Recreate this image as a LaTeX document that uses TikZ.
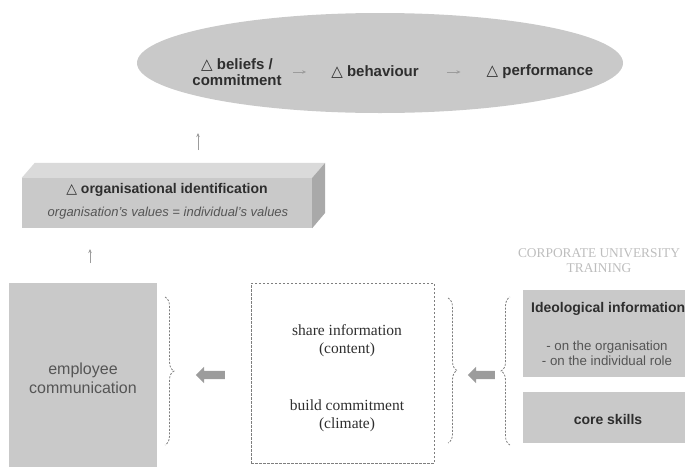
\documentclass[tikz,border=0pt]{standalone}
\usepackage{fontspec}
\setmainfont{Liberation Sans}
\newfontfamily\serifface{Liberation Serif}
\newfontfamily\symface{DejaVu Sans}
\usetikzlibrary{arrows.meta,shapes.geometric,shapes.arrows,decorations.pathreplacing}
\definecolor{txt}{HTML}{2E2E2E}
\definecolor{softtxt}{HTML}{555555}
\definecolor{panel}{HTML}{C9C9C9}
\definecolor{topface}{HTML}{DADADA}
\definecolor{sideface}{HTML}{A9A9A9}
\definecolor{linegrey}{HTML}{7E7E7E}
\definecolor{arrowgrey}{HTML}{9C9C9C}
\definecolor{faint}{HTML}{BDBDBD}
\newcommand{\delt}{{\symface\char"25B3}}
\begin{document}
\begin{tikzpicture}[x=1pt,y=-1pt,
  lbl/.style={font=\fontsize{15}{16}\selectfont\bfseries, text=txt, align=center, inner sep=1pt},
  headlbl/.style={font=\fontsize{14}{16}\selectfont\bfseries, text=txt, inner sep=1pt},
  sublbl/.style={font=\fontsize{13}{14}\selectfont\itshape, text=softtxt, inner sep=1pt},
  plainlbl/.style={font=\fontsize{16}{19}\selectfont, text=softtxt, align=center, inner sep=1pt},
  bulletlbl/.style={font=\fontsize{13.3}{14.5}\selectfont, text=softtxt, align=center, inner sep=1pt},
  seriflbl/.style={font=\serifface\fontsize{15.5}{18}\selectfont, text=txt, align=center, inner sep=1pt},
  greybox/.style={fill=panel, draw=none, inner sep=0pt},
  dashedbox/.style={draw=linegrey, line width=0.8pt, dash pattern=on 2.5pt off 1.5pt, inner sep=0pt},
  thinarrow/.style={draw=arrowgrey, line width=0.7pt, -{Stealth[length=4pt,width=3.5pt]}},
  dashedbrace/.style={draw=linegrey, line width=0.8pt, dash pattern=on 2pt off 1.5pt,
    decorate, decoration={brace, amplitude=9pt}},
  blockarrow/.style={single arrow, fill=arrowgrey, draw=none, inner xsep=0pt, inner ysep=4pt,
    minimum width=16pt, single arrow head extend=4pt, single arrow head indent=0pt,
    shape border rotate=180}
]
\useasboundingbox (0,0) rectangle (685,466);
\clip (0,0) rectangle (685,466);

% outcome chain in the ellipse
\node[ellipse, fill=panel, inner sep=0pt, minimum width=486pt, minimum height=100pt] (goals) at (380,63) {};
\node[lbl] (beliefs) at (237,72.5) {\delt\ beliefs /\\commitment};
\node[lbl] (behaviour) at (375,72) {\delt\ behaviour};
\node[lbl] (perf) at (540,72) {\delt\ performance};
\draw[thinarrow, shorten <=10pt, shorten >=24pt] (beliefs.east |- behaviour) -- (behaviour.west);
\draw[thinarrow, shorten <=27pt, shorten >=25pt] (behaviour.east) -- (perf.west);

% organisational identification block
\node[fill=panel, inner sep=0pt, minimum width=290pt, minimum height=50pt] (orgid) at (167,203) {};
\fill[topface] (orgid.north west) -- ++(13,-15) -- ([shift={(13,-15)}]orgid.north east) -- (orgid.north east) -- cycle;
\fill[sideface] (orgid.north east) -- ++(13,-15) -- ++(0,50) -- (orgid.south east) -- cycle;
\node[headlbl] (orgtitle) at (167,190) {\delt\ organisational identification};
\node[sublbl] (orgvalues) at (168,213) {organisation's values = individual's values};
\coordinate (upA) at (198,150);
\coordinate (upB) at (198,133);
\draw[thinarrow] (upA) -- (upB);

% employee communication
\node[greybox, minimum width=148pt, minimum height=190pt] (emp) at (83,378) {};
\node[plainlbl] (emptext) at (83,378.5) {employee\\communication};
\coordinate (upC) at (90,263);
\coordinate (upD) at (90,249);
\draw[thinarrow] (upC) -- (upD);
\draw[dashedbrace] (165,297) -- (165,445);
\node[blockarrow, minimum height=29pt] (barrowA) at (212.5,375) {};

% communication aims
\node[dashedbox, minimum width=183pt, minimum height=180pt] (aims) at (342.5,373) {};
\node[seriflbl] (content) at (347,341) {share information\\(content)};
\node[seriflbl] (climate) at (347,416) {build commitment\\(climate)};
\draw[dashedbrace] (448,298) -- (448,443);
\node[blockarrow, minimum height=27pt] (barrowB) at (483.5,375) {};

% corporate university training
\node[font=\serifface\fontsize{13.4}{15}\selectfont, text=faint, align=center, inner sep=0pt] (cu) at (599,261) {CORPORATE UNIVERSITY\\TRAINING};
\draw[dashedbrace] (510,445) -- (510,297);
\node[greybox, anchor=north west, minimum width=180pt, minimum height=87pt] (ideo) at (523,290) {};
\node[headlbl, anchor=west] (ideotitle) at (530,309) {Ideological information};
\node[bulletlbl] (ideolist) at (607,353) {- on the organisation\\- on the individual role};
\node[greybox, anchor=north west, minimum width=180pt, minimum height=51pt] (core) at (523,392) {};
\node[headlbl] (coretext) at (608,419) {core skills};
\end{tikzpicture}
\end{document}
